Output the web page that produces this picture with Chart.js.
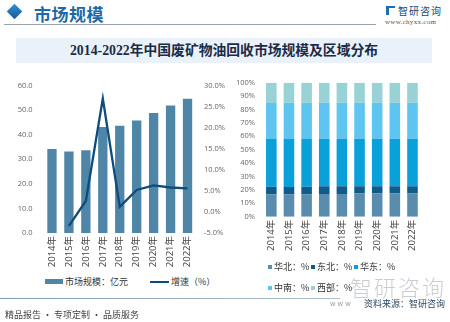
<!DOCTYPE html>
<html lang="zh">
<head>
<meta charset="utf-8">
<script src="https://cdn.jsdelivr.net/npm/chart.js@4.4.1/dist/chart.umd.min.js"></script>
<style>
  body { margin: 0; width: 450px; height: 322px; background: #fff; position: relative; overflow: hidden; font-family: "Noto Sans CJK SC", sans-serif; }
  .abs { position: absolute; white-space: nowrap; }
  #diamond { left: 9px; top: 6px; width: 11px; height: 11px; background: linear-gradient(135deg, #3a8fd0, #14599a); transform: rotate(45deg); }
  #head { left: 34px; top: 1px; font-size: 17px; font-weight: 700; color: #1e6aa6; letter-spacing: 0.5px; }
  #headLine { left: 4px; top: 24px; width: 372px; height: 1px; background: #9aa4ae; }
  #logo { left: 398px; top: 3px; font-size: 10px; color: #1c4472; letter-spacing: 1px; }
  #logoMark { left: 386px; top: 6px; width: 9px; height: 9px; border-left: 3px solid #1c6fb5; border-top: 2px solid #1c6fb5; box-sizing: border-box; }
  #site { left: 385px; top: 18px; font-size: 7px; font-family: "Liberation Serif", serif; color: #555; letter-spacing: 0.3px; }
  #titleBox { left: 16px; top: 38px; width: 416px; height: 25px; background: #e9f2fa; }
  #title { left: 16px; top: 38px; width: 416px; height: 25px; line-height: 25px; text-align: center; font-size: 13.8px; font-weight: 700; color: #1b2a45; font-family: "Liberation Serif", "Noto Sans CJK SC", serif; }
  #leftWrap { left: 0; top: 70px; width: 236px; height: 205px; }
  #rightWrap { left: 230px; top: 70px; width: 220px; height: 185px; }
  .lg { font-size: 9px; color: #333; display: flex; align-items: center; white-space: nowrap; }
  .lg i { display: inline-block; margin-right: 2px; }
  #legendL { left: 45px; top: 275px; display: flex; gap: 22px; }
  #legendR { left: 268px; top: 260px; display: grid; grid-template-columns: 43px 43px 43px; row-gap: 8px; }
  #wm { left: 350px; top: 273px; font-size: 22px; line-height: 26px; color: rgba(150,158,168,0.5); letter-spacing: 2px; font-weight: 300; }
  #footLine { left: 0; top: 298px; width: 340px; height: 1px; background: linear-gradient(90deg, #7d9bb8, #aebfd0); }
  #www { left: 330px; top: 298px; font-size: 7px; color: #999; letter-spacing: 2px; }
  #src { left: 364px; top: 297px; font-size: 9px; color: #2d4763; }
  #slogan { left: 5px; top: 308px; font-size: 9px; color: #444; }
</style>
</head>
<body>
<div class="abs" id="diamond"></div>
<div class="abs" id="head">市场规模</div>
<div class="abs" id="headLine"></div>
<div class="abs" id="logoMark"></div>
<div class="abs" id="logo">智研咨询</div>
<div class="abs" id="site">www.chyxx.com</div>
<div class="abs" id="titleBox"></div>
<div class="abs" id="title">2014-2022年中国废矿物油回收市场规模及区域分布</div>

<div class="abs" id="leftWrap"><canvas id="leftChart" width="236" height="205"></canvas></div>
<div class="abs" id="rightWrap"><canvas id="rightChart" width="220" height="185"></canvas></div>
<div class="abs" id="legendL"></div>
<div class="abs" id="legendR"></div>

<div class="abs" id="wm">智研咨询</div>
<div class="abs" id="footLine"></div>
<div class="abs" id="www">www</div>
<div class="abs" id="src">资料来源：智研咨询</div>
<div class="abs" id="slogan">精品报告 · 专项定制 · 品质服务</div>

<script>
// categories
const years = ['2014年', '2015年', '2016年', '2017年', '2018年', '2019年', '2020年', '2021年', '2022年']

// market size (亿元) and growth (%)
const marketSize = [34.2, 33.2, 33.7, 43.1, 43.6, 45.8, 48.8, 51.9, 54.6]
const growth = [null, -3.3, 2.6, 26.9, 1.2, 5.2, 6.3, 5.8, 5.6]

// regional share (%)
const huabei = [16.5, 16.5, 16.6, 17.0, 17.0, 17.3, 17.3, 17.3, 17.4]
const dongbei = [5.8, 5.7, 5.8, 5.8, 5.7, 5.5, 5.5, 5.5, 5.4]
const huadong = [35.6, 35.8, 35.6, 35.3, 35.4, 35.3, 35.3, 35.3, 35.3]
const zhongnan = [27.0, 27.0, 27.0, 27.0, 27.0, 27.0, 27.0, 27.0, 27.0]
const xibu = [15.1, 15.0, 15.0, 14.9, 14.9, 14.9, 14.9, 14.9, 14.9]

const leftTicks = [0, 10, 20, 30, 40, 50, 60]
const rightTicks = [-5, 0, 5, 10, 15, 20, 25, 30]

const tickFont = { family: "'Open Sans', 'Noto Sans CJK SC', sans-serif", size: 7.5 }
const yearFont = { family: "'Open Sans', 'Noto Sans CJK SC', sans-serif", size: 9.5 }
const tickColor = '#666'

Chart.defaults.animation = false
Chart.defaults.plugins.legend.display = false
Chart.defaults.plugins.tooltip.enabled = false

const noGrid = { display: false, drawTicks: false }
const noBorder = { display: false }

const xAxis = function (h) {
  return {
    grid: noGrid,
    border: noBorder,
    ticks: { minRotation: 90, maxRotation: 90, padding: 3, font: yearFont, color: '#444', autoSkip: false },
    afterFit: function (s) { s.height = h },
  }
}

const leftChart = new Chart(document.getElementById('leftChart'), {
  data: {
    labels: years,
    datasets: [
      {
        type: 'line',
        label: '增速（%）',
        data: growth,
        yAxisID: 'y1',
        borderColor: '#0d4c7b',
        backgroundColor: '#0d4c7b',
        borderWidth: 2.3,
        pointRadius: 0,
        order: 0,
      },
      {
        type: 'bar',
        label: '市场规模：亿元',
        data: marketSize,
        yAxisID: 'y',
        backgroundColor: '#4f86a7',
        barPercentage: 0.55,
        categoryPercentage: 1,
        order: 1,
      },
    ],
  },
  options: {
    responsive: false,
    layout: { padding: { top: 12, left: 0, right: 0, bottom: 0 } },
    scales: {
      x: xAxis(42),
      y: {
        position: 'left',
        min: 0,
        max: 60,
        grid: noGrid,
        border: noBorder,
        afterBuildTicks: function (s) { s.ticks = leftTicks.map(v => ({ value: v })) },
        ticks: { padding: 11, font: tickFont, color: tickColor, callback: v => v.toFixed(1) },
        afterFit: function (s) { s.width = 43.5 },
      },
      y1: {
        position: 'right',
        min: -5,
        max: 30,
        grid: noGrid,
        border: noBorder,
        afterBuildTicks: function (s) { s.ticks = rightTicks.map(v => ({ value: v })) },
        ticks: { padding: 8, font: tickFont, color: tickColor, callback: v => v.toFixed(1) + '%' },
        afterFit: function (s) { s.width = 40 },
      },
    },
  },
})

const regions = [
  { label: '华北：%', data: huabei, color: '#5a8cad' },
  { label: '东北：%', data: dongbei, color: '#0f5c8a' },
  { label: '华东：%', data: huadong, color: '#0aa1da' },
  { label: '中南：%', data: zhongnan, color: '#5ec5f0' },
  { label: '西部：%', data: xibu, color: '#98d2d4' },
]

const rightChart = new Chart(document.getElementById('rightChart'), {
  type: 'bar',
  data: {
    labels: years,
    datasets: regions.map(r => ({
      label: r.label,
      data: r.data,
      backgroundColor: r.color,
      barPercentage: 0.6,
      categoryPercentage: 1,
    })),
  },
  options: {
    responsive: false,
    layout: { padding: { top: 12.7, left: 0, right: 28.7, bottom: 0 } },
    scales: {
      x: Object.assign(xAxis(38.3), { stacked: true }),
      y: {
        stacked: true,
        min: 0,
        max: 100,
        grid: noGrid,
        border: noBorder,
        ticks: { stepSize: 10, padding: 7.5, font: tickFont, color: tickColor, callback: v => v + '%' },
        afterFit: function (s) { s.width = 32.5 },
      },
    },
  },
})

// legends
function swatch(w, h, color) {
  const i = document.createElement('i')
  i.style.width = w + 'px'
  i.style.height = h + 'px'
  i.style.background = color
  return i
}

const legendL = document.getElementById('legendL')
;[leftChart.data.datasets[1], leftChart.data.datasets[0]].forEach(function (ds) {
  const item = document.createElement('span')
  item.className = 'lg'
  const isLine = ds.type === 'line'
  item.appendChild(swatch(isLine ? 19 : 18, isLine ? 2 : 5, ds.backgroundColor))
  item.appendChild(document.createTextNode(ds.label))
  legendL.appendChild(item)
})

const legendR = document.getElementById('legendR')
rightChart.data.datasets.forEach(function (ds) {
  const item = document.createElement('span')
  item.className = 'lg'
  item.appendChild(swatch(4, 4, ds.backgroundColor))
  item.appendChild(document.createTextNode(ds.label))
  legendR.appendChild(item)
})
</script>
</body>
</html>
